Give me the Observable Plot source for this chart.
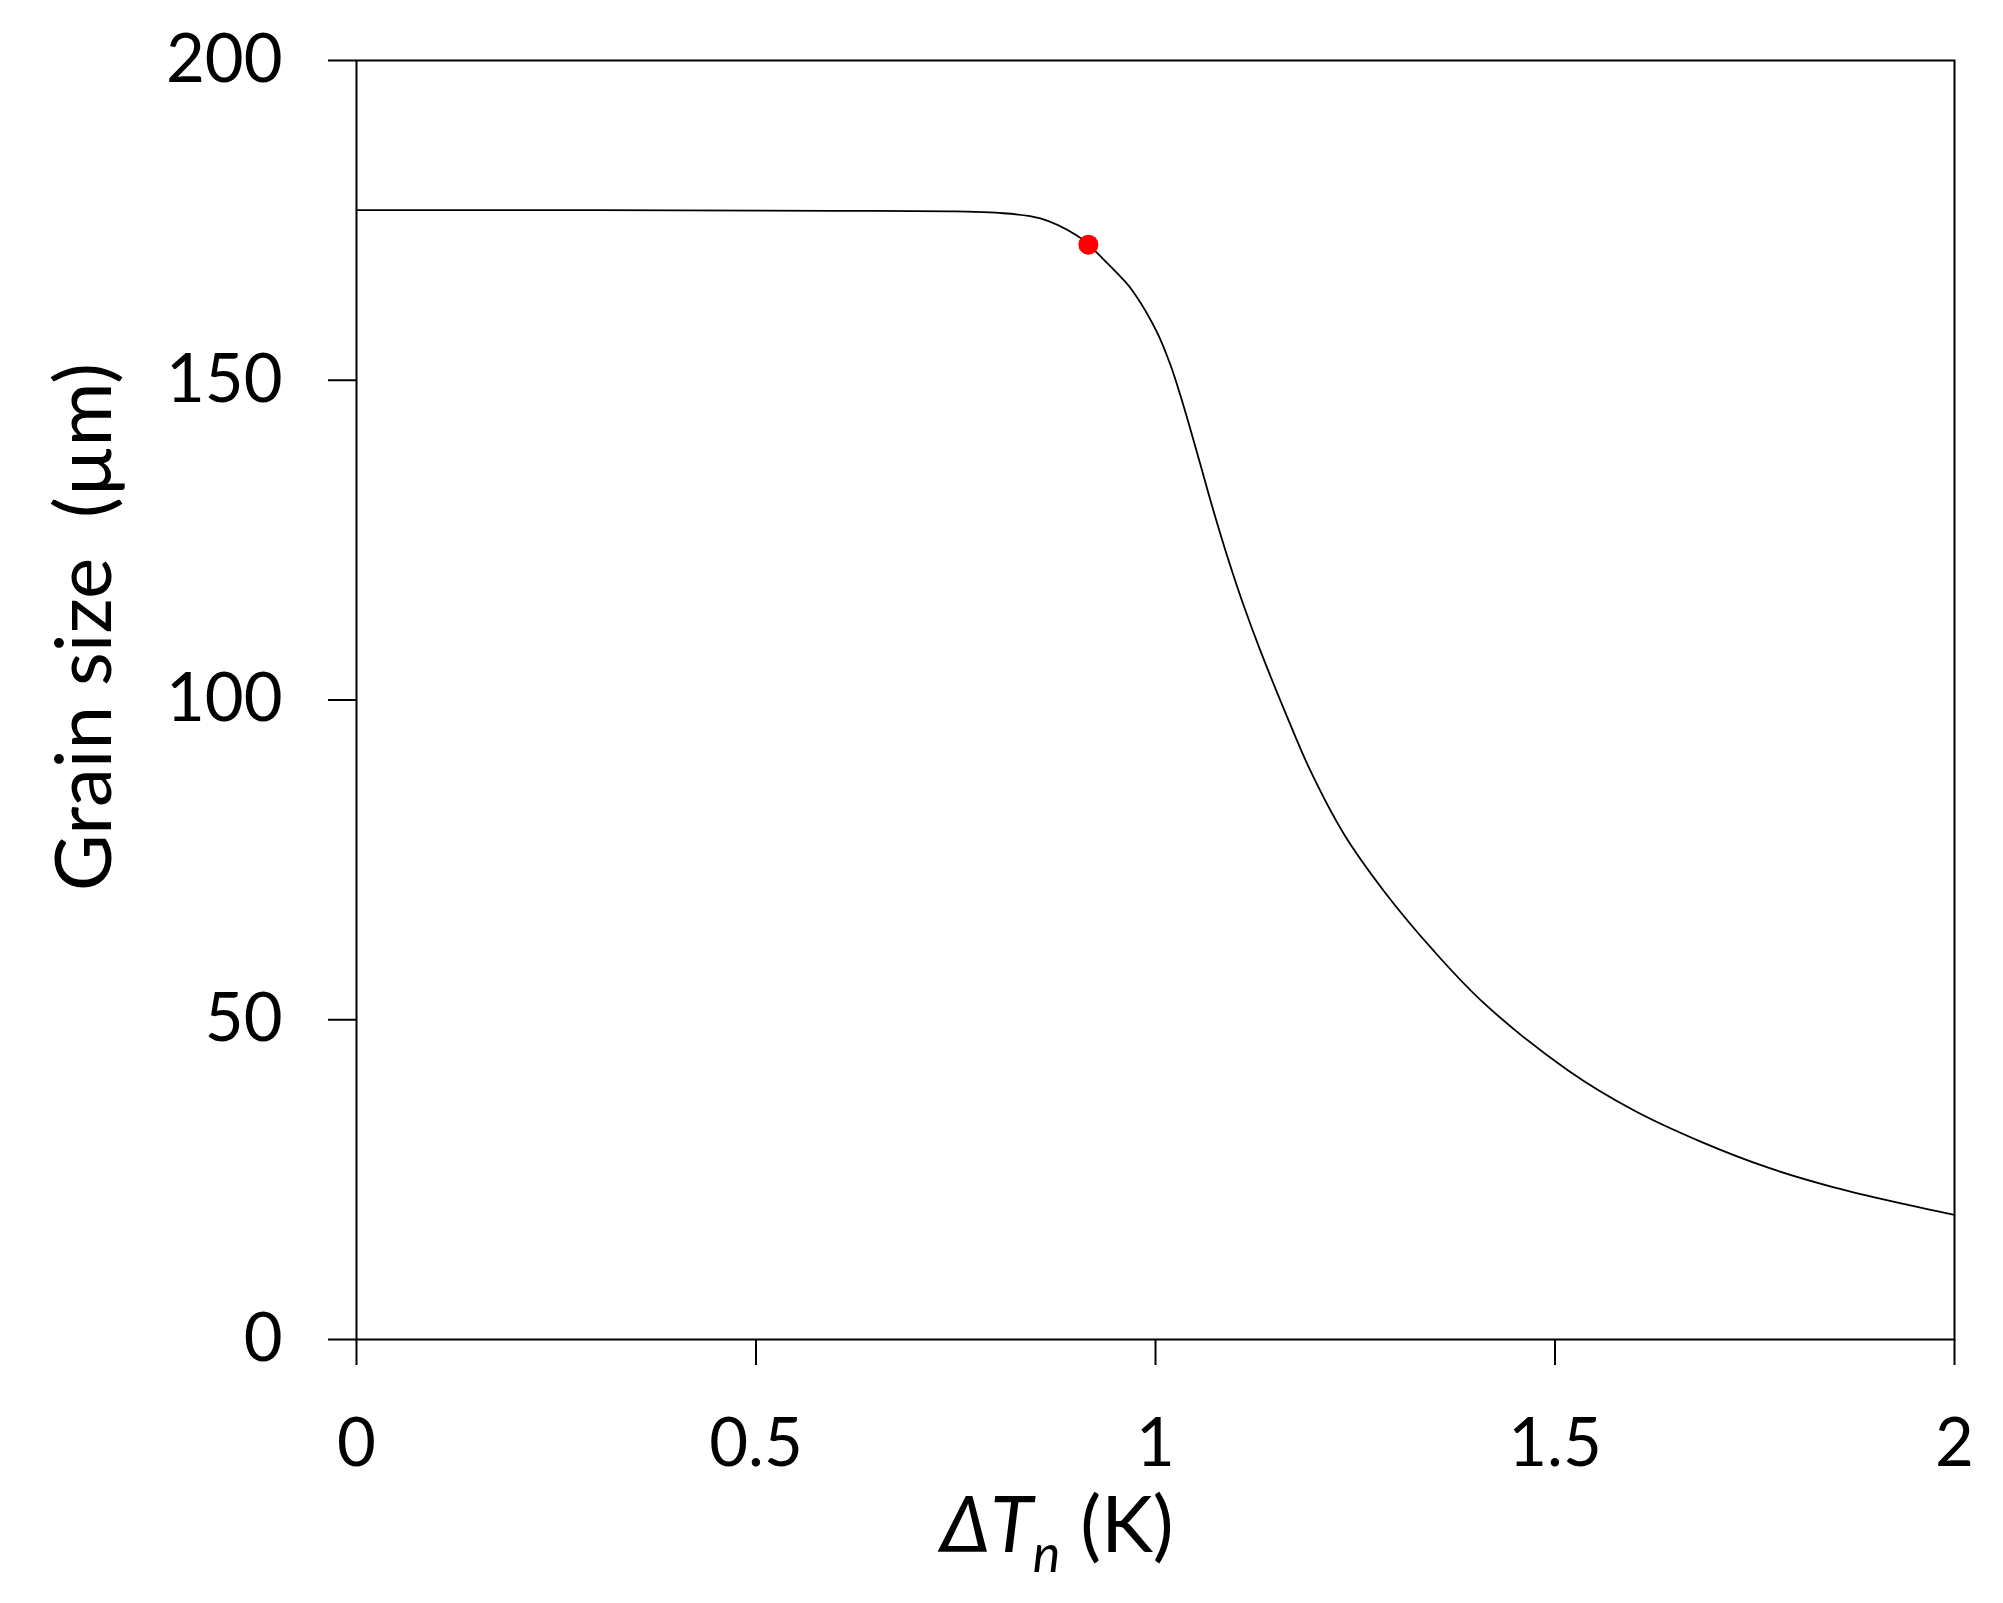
<!DOCTYPE html>
<html><head><meta charset="utf-8">
<script src="https://cdn.jsdelivr.net/npm/d3@7"></script>
<script src="https://cdn.jsdelivr.net/npm/@observablehq/plot@0.6"></script>
<style>
body{margin:0;background:#fff}
#chart{position:relative;width:2003px;height:1603px}
</style>
</head><body><div id="chart"></div>
<script>
// Curve: grain size (µm) vs nucleation undercooling ΔTn (K)
const deltaT = [0, 0.3, 0.6, 0.75, 0.8, 0.856, 0.902, 0.916, 0.931, 0.96, 0.973, 1.002, 1.019, 1.031, 1.044, 1.056, 1.073, 1.09, 1.11, 1.131, 1.161, 1.194, 1.236, 1.286, 1.348, 1.411, 1.516, 1.599, 1.683, 1.766, 1.849, 1.933, 2.0];
const grainSize = [176.6, 176.6, 176.5, 176.4, 176.2, 175.3, 172.6, 171.2, 169.4, 165.7, 163.7, 157.5, 152.3, 147.7, 142.2, 136.9, 129.4, 122.4, 114.9, 107.8, 98.5, 88.9, 79.0, 70.1, 60.8, 52.6, 42.1, 35.8, 30.9, 26.9, 23.8, 21.3, 19.5];
// Highlighted point
const markerX = [0.916];
const markerY = [171.2];
// Axes
const xTicks = [0, 0.5, 1, 1.5, 2];
const yTicks = [0, 50, 100, 150, 200];
const yTitle = "Grain size  (µm)";
const xTitleParts = [
  {t: "Δ", italic: true, sub: false},
  {t: "T", italic: true, sub: false},
  {t: "n", italic: true, sub: true},
  {t: " (K)", italic: false, sub: false}
];

const curve = deltaT.map((x, i) => ({x, y: grainSize[i]}));
const markers = markerX.map((x, i) => ({x, y: markerY[i]}));

const FONT = "Lato, 'Open Sans', sans-serif";

const plot = Plot.plot({
  width: 2003,
  height: 1603,
  marginLeft: 356,
  marginRight: 49,
  marginTop: 60,
  marginBottom: 264,
  style: {fontFamily: FONT, fontSize: "67px", color: "#000", background: "#fff", overflow: "visible"},
  x: {domain: [0, 2]},
  y: {domain: [0, 200]},
  marks: [
    Plot.frame({stroke: "#000", strokeWidth: 2}),
    Plot.axisX(xTicks, {tickSize: 26, tickPadding: 53, strokeWidth: 2, stroke: "#000", fill: "#000", tickFormat: d => String(d), label: null, fontSize: 67}),
    Plot.axisY(yTicks, {tickSize: 28, tickPadding: 46, strokeWidth: 2, stroke: "#000", fill: "#000", tickFormat: d => String(d), label: null, fontSize: 67}),
    Plot.line(curve, {x: "x", y: "y", stroke: "#000", strokeWidth: 1.8, curve: "catmull-rom"}),
    Plot.dot(markers, {x: "x", y: "y", r: 10, fill: "#ff0000", stroke: "none"})
  ]
});

document.getElementById("chart").appendChild(plot);

const svg = d3.select(plot);
// Y axis title
svg.append("text")
  .attr("transform", "translate(111,627) rotate(-90)")
  .attr("text-anchor", "middle")
  .attr("font-family", FONT)
  .attr("font-size", 78)
  .attr("fill", "#000")
  .style("white-space", "pre")
  .text(yTitle);

// X axis title with italic Δ T and subscript n
const xt = svg.append("text")
  .attr("x", 1057)
  .attr("y", 1552)
  .attr("text-anchor", "middle")
  .attr("font-family", FONT)
  .attr("font-size", 78)
  .attr("fill", "#000")
  .style("white-space", "pre");
let shifted = false;
for (const p of xTitleParts) {
  const ts = xt.append("tspan").text(p.t);
  if (p.italic) ts.attr("font-style", "italic");
  if (p.sub) { ts.attr("font-size", 52).attr("dy", 20); shifted = true; }
  else if (shifted) { ts.attr("dy", -20); shifted = false; }
}
</script>
</body></html>
